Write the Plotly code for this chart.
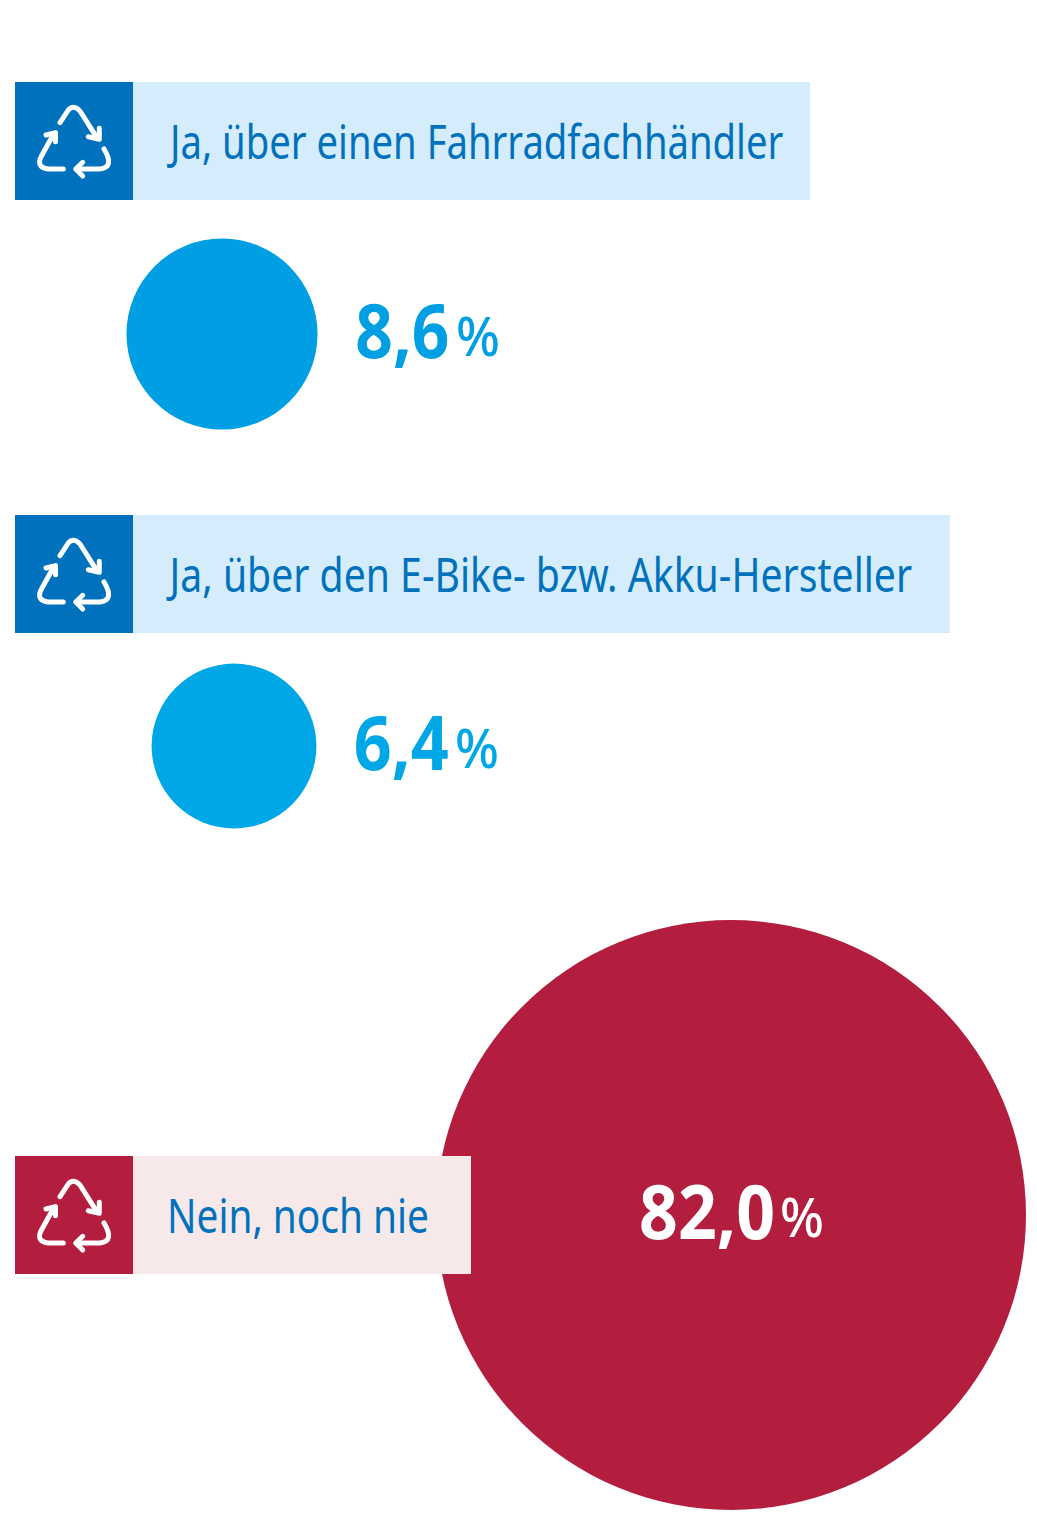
import json
import plotly.graph_objects as go

# Antworten und Werte
labels = ["Ja, über einen Fahrradfachhändler", "Ja, über den E-Bike- bzw. Akku-Hersteller", "Nein, noch nie"]
values = [8.6, 6.4, 82.0]

circle_x = [222, 234, 731]
circle_y = [334, 746, 1215]
circle_colors = ["#009fe3", "#00a7e7", "#b41e3e"]

band_top = [82, 515, 1156]
band_right = [810, 950, 471]
band_colors = ["#d4ecfb", "#d4ecfb", "#f7e9e9"]
icon_colors = ["#0071bc", "#0071bc", "#b41e3e"]
label_color = "#0071bc"

# Textbreiten im Original (Schrift ist dort schmal geschnitten)
label_left = [166, 166, 167]
label_width = [617, 746, 262]
value_left = [355, 354, 639]
value_width = [94, 95, 136]
percent_left = [456, 455, 780]
percent_width = 44
value_colors = ["#009fe3", "#00a7e7", "#ffffff"]

FONT = "Noto Sans, Open Sans, sans-serif"

# Recycling-Symbol, Koordinaten relativ zum Quadrat
ICON_PATHS = [
    [("M", 45, 40.7), ("L", 53.3, 28), ("Q", 58.3, 22, 65, 29), ("L", 82.3, 56.3)],
    [("M", 73.3, 54.7), ("L", 84.3, 57.3), ("L", 84.3, 46.3)],
    [("M", 48.3, 87), ("L", 33, 87), ("Q", 20, 85, 27, 73), ("L", 38.8, 51.8)],
    [("M", 31, 53), ("L", 40.5, 50.6), ("L", 40.5, 59.7)],
    [("M", 89, 67), ("Q", 100, 85, 85, 87), ("L", 61.7, 87)],
    [("M", 67.7, 80.3), ("L", 60.7, 87), ("L", 67.7, 94)],
]


def icon_path(path, x0, y0):
    parts = []
    for seg in path:
        coords = seg[1:]
        moved = [c + (x0 if i % 2 == 0 else y0) for i, c in enumerate(coords)]
        parts.append(seg[0] + " " + " ".join(f"{c:.1f}" for c in moved))
    return " ".join(parts)


fig = go.Figure()
fig.add_scatter(
    x=circle_x,
    y=circle_y,
    mode="markers",
    marker=dict(
        size=values,
        sizemode="area",
        sizeref=82.0 / (2 * 295**2),
        color=circle_colors,
        opacity=1,
        line=dict(width=0),
    ),
    text=labels,
    hovertemplate="%{text}: %{marker.size}%<extra></extra>",
)

text_widths = []


def add_text(left, width, y, text, size, color, weight="normal"):
    # zentriert, damit die Stauchung um die Mitte läuft
    fig.add_annotation(x=left + width / 2, y=y, text=text, showarrow=False, xanchor="center", yanchor="middle",
                       font=dict(family=FONT, size=size, color=color, weight=weight))
    text_widths.append(width)


for i, label in enumerate(labels):
    top = band_top[i]
    fig.add_shape(type="rect", x0=133, x1=band_right[i], y0=top, y1=top + 118,
                  fillcolor=band_colors[i], line_width=0, layer="above")
    fig.add_shape(type="rect", x0=15, x1=133, y0=top, y1=top + 118,
                  fillcolor=icon_colors[i], line_width=0, layer="above")
    for path in ICON_PATHS:
        fig.add_shape(type="path", path=icon_path(path, 15, top),
                      line=dict(color="white", width=5), layer="above")
    add_text(label_left[i], label_width[i], top + 58, label, 48, label_color)
    add_text(value_left[i], value_width[i], circle_y[i] - 6, f"{values[i]:.1f}".replace(".", ","), 76,
             value_colors[i], weight="bold")
    add_text(percent_left[i], percent_width, circle_y[i] + 1, "%", 54, value_colors[i], weight=500)

fig.update_xaxes(visible=False, range=[0, 1037], fixedrange=True)
fig.update_yaxes(visible=False, range=[1525, 0], fixedrange=True)
fig.update_layout(
    width=1037,
    height=1525,
    margin=dict(l=0, r=0, t=0, b=0),
    paper_bgcolor="white",
    plot_bgcolor="white",
    showlegend=False,
)

# Seitenrand weg, runde Linienenden am Symbol, Text auf Originalbreite stauchen
post_script = """
document.body.style.margin = '0';
document.querySelectorAll('.shapelayer path').forEach(function (p) {
    p.style.strokeLinecap = 'round';
    p.style.strokeLinejoin = 'round';
});
var widths = %s;
document.querySelectorAll('.annotation-text').forEach(function (t, i) {
    var box = t.getBBox();
    var cx = box.x + box.width / 2;
    var s = widths[i] / box.width;
    t.setAttribute('transform', 'translate(' + cx + ',0) scale(' + s + ',1) translate(' + (-cx) + ',0)');
    t.parentNode.querySelectorAll('rect').forEach(function (r) {
        r.setAttribute('x', cx - widths[i] / 2);
        r.setAttribute('width', widths[i]);
    });
});
""" % json.dumps(text_widths)
fig.write_html("out.html", post_script=post_script, config=dict(displayModeBar=False))
